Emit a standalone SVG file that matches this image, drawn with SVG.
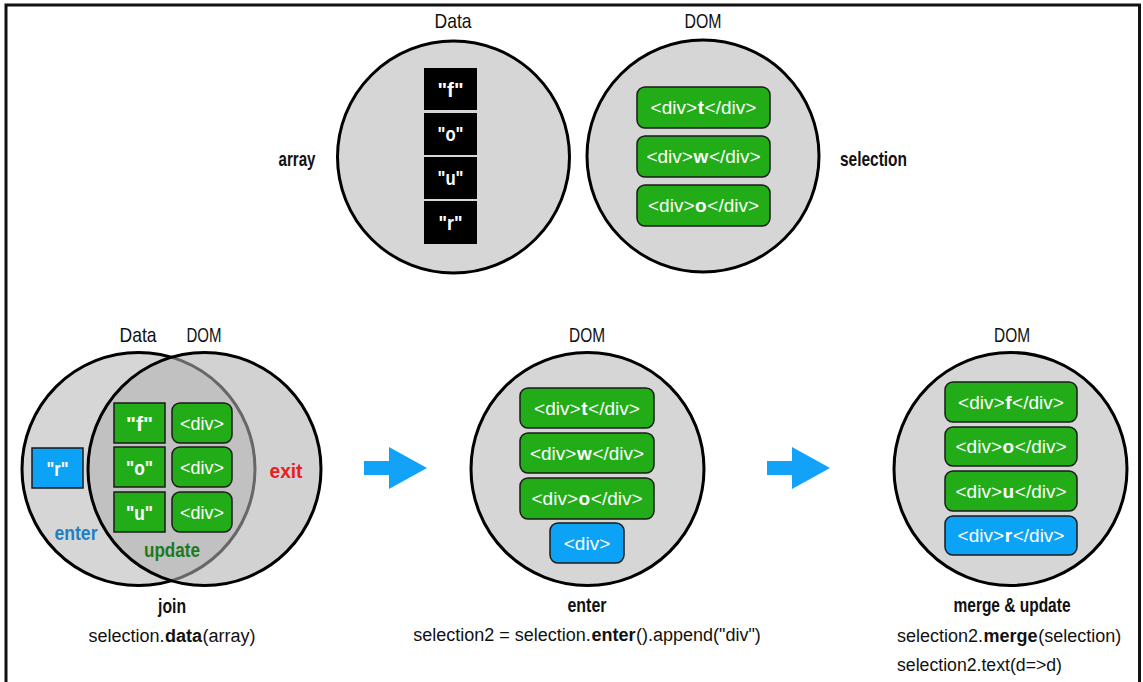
<svg xmlns="http://www.w3.org/2000/svg" width="1143" height="682" viewBox="0 0 1143 682">
<style>
text{font-family:"Liberation Sans",Arial,sans-serif;font-size:21px;fill:#111;text-anchor:middle}
.s{text-anchor:start}
.b{font-weight:bold}
.w{fill:#fff}
.bx{font-size:19px}
.cd{font-size:18px}
.circ{fill:#d6d6d6;stroke:#000;stroke-width:3}
.gbox{fill:#22ad18;stroke:#1a1a1a;stroke-width:1.5}
.bbox{fill:#0ca3f6;stroke:#1a1a1a;stroke-width:1.5}
.kbox{fill:#000}
.arrow{fill:#12a2f7}
</style>
<rect width="1143" height="682" fill="#fff"/>
<path d="M6,682 V5 H1139.5 V682" fill="none" stroke="#111" stroke-width="3"/>

<g id="top-data">
<text x="453" y="28" textLength="37" lengthAdjust="spacingAndGlyphs">Data</text>
<circle class="circ" cx="453.5" cy="157" r="116"/>
<rect class="kbox" x="424" y="68" width="53" height="42"/>
<rect class="kbox" x="424" y="113" width="53" height="42"/>
<rect class="kbox" x="424" y="157" width="53" height="42"/>
<rect class="kbox" x="424" y="201" width="53" height="43"/>
<text class="w b" x="450.5" y="97" textLength="26" lengthAdjust="spacingAndGlyphs">"f"</text>
<text class="w b" x="450.5" y="141" textLength="26" lengthAdjust="spacingAndGlyphs">"o"</text>
<text class="w b" x="450.5" y="185" textLength="26" lengthAdjust="spacingAndGlyphs">"u"</text>
<text class="w b" x="450.5" y="230" textLength="24" lengthAdjust="spacingAndGlyphs">"r"</text>
<text class="b" x="297" y="166" textLength="37" lengthAdjust="spacingAndGlyphs">array</text>
</g>

<g id="top-dom">
<text x="703" y="28" textLength="37" lengthAdjust="spacingAndGlyphs">DOM</text>
<circle class="circ" cx="703" cy="156" r="116"/>
<rect class="gbox" x="637" y="87" width="133" height="41" rx="8"/>
<rect class="gbox" x="637" y="136" width="133" height="41" rx="8"/>
<rect class="gbox" x="637" y="185" width="133" height="41" rx="8"/>
<text class="w s bx" x="650.6" y="114">&lt;div&gt;</text>
<text class="w s bx b" x="697.7" y="114">t</text>
<text class="w s bx" x="704.6" y="114">&lt;/div&gt;</text>
<text class="w s bx" x="646.4" y="163">&lt;div&gt;</text>
<text class="w s bx b" x="693.5" y="163">w</text>
<text class="w s bx" x="708.9" y="163">&lt;/div&gt;</text>
<text class="w s bx" x="648" y="212">&lt;div&gt;</text>
<text class="w s bx b" x="695.1" y="212">o</text>
<text class="w s bx" x="707.3" y="212">&lt;/div&gt;</text>
<text class="b" x="873.5" y="166" textLength="67" lengthAdjust="spacingAndGlyphs">selection</text>
</g>

<g id="join">
<text x="138" y="342" textLength="37" lengthAdjust="spacingAndGlyphs">Data</text>
<text x="204" y="342" textLength="35" lengthAdjust="spacingAndGlyphs">DOM</text>
<circle class="circ" cx="138.5" cy="469" r="116.5"/>
<circle cx="204.5" cy="469" r="116.5" fill="#b2b2b2" fill-opacity="0.58" stroke="#000" stroke-width="3"/>
<rect class="bbox" x="32" y="448" width="51" height="40"/>
<text class="w b" x="57.5" y="476" textLength="22" lengthAdjust="spacingAndGlyphs">"r"</text>
<rect class="gbox" x="114" y="403" width="51" height="40"/>
<rect class="gbox" x="114" y="447" width="51" height="40"/>
<rect class="gbox" x="114" y="492" width="51" height="40"/>
<text class="w b" x="139.5" y="431" textLength="27" lengthAdjust="spacingAndGlyphs">"f"</text>
<text class="w b" x="139.5" y="475" textLength="27" lengthAdjust="spacingAndGlyphs">"o"</text>
<text class="w b" x="139.5" y="520" textLength="27" lengthAdjust="spacingAndGlyphs">"u"</text>
<rect class="gbox" x="172" y="403" width="60" height="40" rx="8"/>
<rect class="gbox" x="172" y="447" width="60" height="40" rx="8"/>
<rect class="gbox" x="172" y="492" width="60" height="40" rx="8"/>
<text class="w bx" x="202" y="430" textLength="44" lengthAdjust="spacingAndGlyphs">&lt;div&gt;</text>
<text class="w bx" x="202" y="474" textLength="44" lengthAdjust="spacingAndGlyphs">&lt;div&gt;</text>
<text class="w bx" x="202" y="519" textLength="44" lengthAdjust="spacingAndGlyphs">&lt;div&gt;</text>
<text class="b" x="286" y="478" textLength="33" lengthAdjust="spacingAndGlyphs" style="fill:#e8201c">exit</text>
<text class="b" x="76" y="540" textLength="43" lengthAdjust="spacingAndGlyphs" style="fill:#1f7fc4">enter</text>
<text class="b" x="172" y="557" textLength="56" lengthAdjust="spacingAndGlyphs" style="fill:#1c7a1c">update</text>
<text class="b" x="172" y="613" textLength="28" lengthAdjust="spacingAndGlyphs">join</text>
<text class="s cd" x="88.4" y="642">selection.</text>
<text class="s cd b" x="165" y="642">data</text>
<text class="s cd" x="202.6" y="642">(array)</text>
</g>

<g id="enter">
<text x="587" y="342" textLength="36" lengthAdjust="spacingAndGlyphs">DOM</text>
<circle class="circ" cx="587.5" cy="469" r="116.5"/>
<rect class="gbox" x="520" y="388" width="134" height="40" rx="8"/>
<rect class="gbox" x="520" y="433" width="134" height="40" rx="8"/>
<rect class="gbox" x="520" y="478" width="134" height="41" rx="8"/>
<rect class="bbox" x="550" y="523" width="74" height="40" rx="8"/>
<text class="w s bx" x="534.1" y="415">&lt;div&gt;</text>
<text class="w s bx b" x="581.2" y="415">t</text>
<text class="w s bx" x="588.1" y="415">&lt;/div&gt;</text>
<text class="w s bx" x="529.9" y="460">&lt;div&gt;</text>
<text class="w s bx b" x="577" y="460">w</text>
<text class="w s bx" x="592.4" y="460">&lt;/div&gt;</text>
<text class="w s bx" x="531.5" y="505">&lt;div&gt;</text>
<text class="w s bx b" x="578.6" y="505">o</text>
<text class="w s bx" x="590.8" y="505">&lt;/div&gt;</text>
<text class="w bx" x="587" y="550">&lt;div&gt;</text>
<text class="b" x="587" y="612" textLength="39" lengthAdjust="spacingAndGlyphs">enter</text>
<text class="s cd" x="413.2" y="641">selection2 = selection.</text>
<text class="s cd b" x="591.4" y="641">enter</text>
<text class="s cd" x="636" y="641">().append("div")</text>
</g>

<g id="merge">
<text x="1012" y="342" textLength="36" lengthAdjust="spacingAndGlyphs">DOM</text>
<circle class="circ" cx="1010.5" cy="469" r="116.5"/>
<rect class="gbox" x="945" y="382" width="132" height="40" rx="8"/>
<rect class="gbox" x="945" y="427" width="132" height="39" rx="8"/>
<rect class="gbox" x="945" y="471" width="132" height="40" rx="8"/>
<rect class="bbox" x="945" y="516" width="132" height="39" rx="8"/>
<text class="w s bx" x="958.1" y="409">&lt;div&gt;</text>
<text class="w s bx b" x="1005.2" y="409">f</text>
<text class="w s bx" x="1012.1" y="409">&lt;/div&gt;</text>
<text class="w s bx" x="955.5" y="453">&lt;div&gt;</text>
<text class="w s bx b" x="1002.6" y="453">o</text>
<text class="w s bx" x="1014.8" y="453">&lt;/div&gt;</text>
<text class="w s bx" x="955.5" y="498">&lt;div&gt;</text>
<text class="w s bx b" x="1002.6" y="498">u</text>
<text class="w s bx" x="1014.8" y="498">&lt;/div&gt;</text>
<text class="w s bx" x="957.6" y="542">&lt;div&gt;</text>
<text class="w s bx b" x="1004.7" y="542">r</text>
<text class="w s bx" x="1012.7" y="542">&lt;/div&gt;</text>
<text class="b" x="1012" y="612" textLength="117" lengthAdjust="spacingAndGlyphs">merge &amp; update</text>
<text class="s cd" x="897" y="642">selection2.</text>
<text class="s cd b" x="983.6" y="642">merge</text>
<text class="s cd" x="1038.2" y="642">(selection)</text>
<text class="s cd" x="897" y="671" textLength="165" lengthAdjust="spacingAndGlyphs">selection2.text(d=&gt;d)</text>
</g>

<g id="connectors">
<path class="arrow" d="M364,461 H389 V447 L427,468 L389,489 V475 H364 Z"/>
<path class="arrow" d="M767,461 H792 V447 L830,468 L792,489 V475 H767 Z"/>
</g>
</svg>
